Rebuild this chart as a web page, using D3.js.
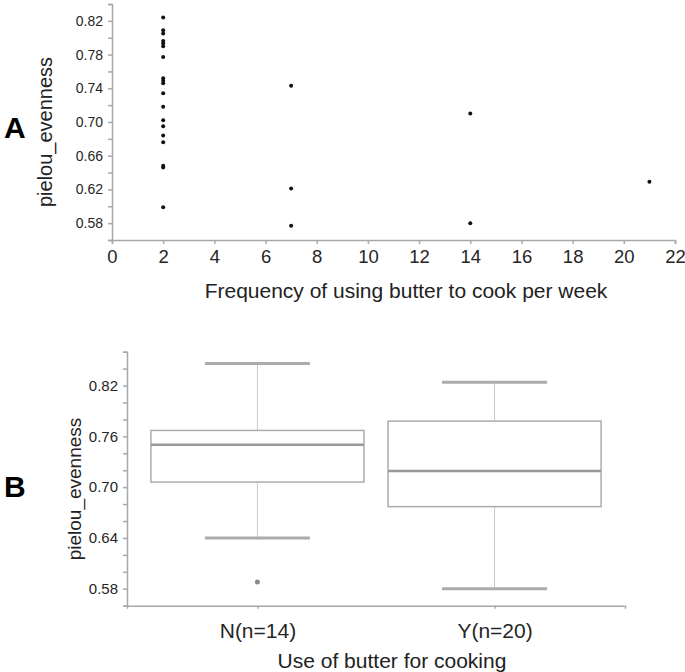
<!DOCTYPE html>
<html>
<head>
<meta charset="utf-8">
<script src="https://cdn.jsdelivr.net/npm/d3@7"></script>
<style>
  body { margin: 0; background: #fff; }
  svg { display: block; }
  svg text { font-family: Arial, "Liberation Sans", sans-serif; }
  .axis path, .axis line { stroke: #a8a8a8; stroke-width: 1.5; }
  .axis text { fill: #262626; }
</style>
</head>
<body>
<svg id="chart" width="685" height="672"></svg>
<script>
// panel A: frequency vs evenness
const freq = [2,2,2,2,2,2,2,2,2,2,2,2,2,2,2,2,2,2,2, 7,7,7, 14,14, 21];
const evenness = [0.824,0.809,0.805,0.796,0.793,0.790,0.777,0.752,0.749,0.746,0.734,0.718,0.702,0.695,0.684,0.676,0.648,0.646,0.599,
  0.743,0.621,0.577, 0.710,0.580, 0.629];
const freqTicks = [0,2,4,6,8,10,12,14,16,18,20,22];
const evenTicksA = [0.58,0.62,0.66,0.70,0.74,0.78,0.82];
const evenMinorA = [0.56,0.58,0.60,0.62,0.64,0.66,0.68,0.70,0.72,0.74,0.76,0.78,0.80,0.82,0.84];

// panel B: box plot stats
const groups = ["N(n=14)", "Y(n=20)"];
const q1 = [0.706, 0.677];
const median = [0.750, 0.719];
const q3 = [0.767, 0.778];
const whiskLo = [0.640, 0.580];
const whiskHi = [0.846, 0.824];
const outliers = [[0.588], []];
const evenTicksB = [0.58,0.64,0.70,0.76,0.82];
const evenMinorB = [0.56,0.58,0.60,0.62,0.64,0.66,0.68,0.70,0.72,0.74,0.76,0.78,0.80,0.82,0.84,0.86];

const svg = d3.select('#chart');
const fmt = d3.format('.2f');

function minorAxis(g, scale, vals, major, fontSize) {
  g.call(d3.axisLeft(scale).tickValues(vals).tickSize(4).tickPadding(5)
    .tickFormat(v => major.some(m => Math.abs(m - v) < 1e-6) ? fmt(v) : ''));
  g.attr('class','axis').attr('font-family', null)
   .selectAll('text').attr('font-size', fontSize);
}

// ---- A ----
const xA = d3.scaleLinear().domain([0,22]).range([112,675]);
const yA = d3.scaleLinear().domain([0.56,0.84]).range([240,4]);

const gxA = svg.append('g').attr('transform','translate(0,240)');
gxA.call(d3.axisBottom(xA).tickValues(freqTicks).tickSize(4).tickPadding(6).tickFormat(d3.format('d')));
gxA.attr('class','axis').attr('font-family', null).selectAll('text').attr('font-size',18.5);

const gyA = svg.append('g').attr('transform','translate(112,0)');
minorAxis(gyA, yA, evenMinorA, evenTicksA, 14);

svg.append('g').selectAll('circle')
  .data(freq.map((f,i) => ({f, e: evenness[i]})))
  .join('circle')
    .attr('cx', d => xA(d.f))
    .attr('cy', d => yA(d.e))
    .attr('r', 2)
    .attr('fill', '#111');

svg.append('text').attr('x',406).attr('y',298).attr('text-anchor','middle')
  .attr('font-size',21).attr('fill','#222').text('Frequency  of using butter to cook per week');
svg.append('text').attr('transform','translate(52,132) rotate(-90)').attr('text-anchor','middle')
  .attr('font-size',20).attr('fill','#222').text('pielou_evenness');
svg.append('text').attr('x',4).attr('y',138).attr('font-size',30).attr('font-weight','bold')
  .attr('fill','#000').text('A');

// ---- B ----
const xB = d3.scalePoint().domain(groups).range([127,625]).padding(0.55);
const yB = d3.scaleLinear().domain([0.56,0.86]).range([605.7,351.7]);
const boxW = 213, capW = 105;

const gxB = svg.append('g').attr('transform','translate(0,605.7)');
gxB.call(d3.axisBottom(xB).tickSize(3).tickPadding(14));
gxB.attr('class','axis').attr('font-family', null).selectAll('text').attr('font-size',21);

const gyB = svg.append('g').attr('transform','translate(127,0)');
minorAxis(gyB, yB, evenMinorB, evenTicksB, 15);

const boxes = svg.append('g').selectAll('g')
  .data(groups.map((g,i) => ({g, q1:q1[i], med:median[i], q3:q3[i], lo:whiskLo[i], hi:whiskHi[i], out:outliers[i]})))
  .join('g');

boxes.append('line')
  .attr('x1', d => xB(d.g)).attr('x2', d => xB(d.g))
  .attr('y1', d => yB(d.hi)).attr('y2', d => yB(d.lo))
  .attr('stroke','#c8c8c8').attr('stroke-width',1);
boxes.selectAll('.cap').data(d => [d.lo, d.hi].map(v => ({g:d.g, v})))
  .join('line').attr('class','cap')
  .attr('x1', d => xB(d.g) - capW/2).attr('x2', d => xB(d.g) + capW/2)
  .attr('y1', d => yB(d.v)).attr('y2', d => yB(d.v))
  .attr('stroke','#ababab').attr('stroke-width',3);
boxes.append('rect')
  .attr('x', d => xB(d.g) - boxW/2).attr('width', boxW)
  .attr('y', d => yB(d.q3)).attr('height', d => yB(d.q1) - yB(d.q3))
  .attr('fill','#fff').attr('stroke','#ababab').attr('stroke-width',1.5);
boxes.append('line')
  .attr('x1', d => xB(d.g) - boxW/2).attr('x2', d => xB(d.g) + boxW/2)
  .attr('y1', d => yB(d.med)).attr('y2', d => yB(d.med))
  .attr('stroke','#999').attr('stroke-width',2.5);
boxes.selectAll('.out').data(d => d.out.map(v => ({g:d.g, v})))
  .join('circle').attr('class','out')
  .attr('cx', d => xB(d.g)).attr('cy', d => yB(d.v)).attr('r',2.5).attr('fill','#8a8a8a');

svg.append('text').attr('x',392).attr('y',668).attr('text-anchor','middle')
  .attr('font-size',21).attr('fill','#222').text('Use of butter for cooking');
svg.append('text').attr('transform','translate(81,489) rotate(-90)').attr('text-anchor','middle')
  .attr('font-size',19).attr('fill','#222').text('pielou_evenness');
svg.append('text').attr('x',4).attr('y',497).attr('font-size',30).attr('font-weight','bold')
  .attr('fill','#000').text('B');
</script>
</body>
</html>
